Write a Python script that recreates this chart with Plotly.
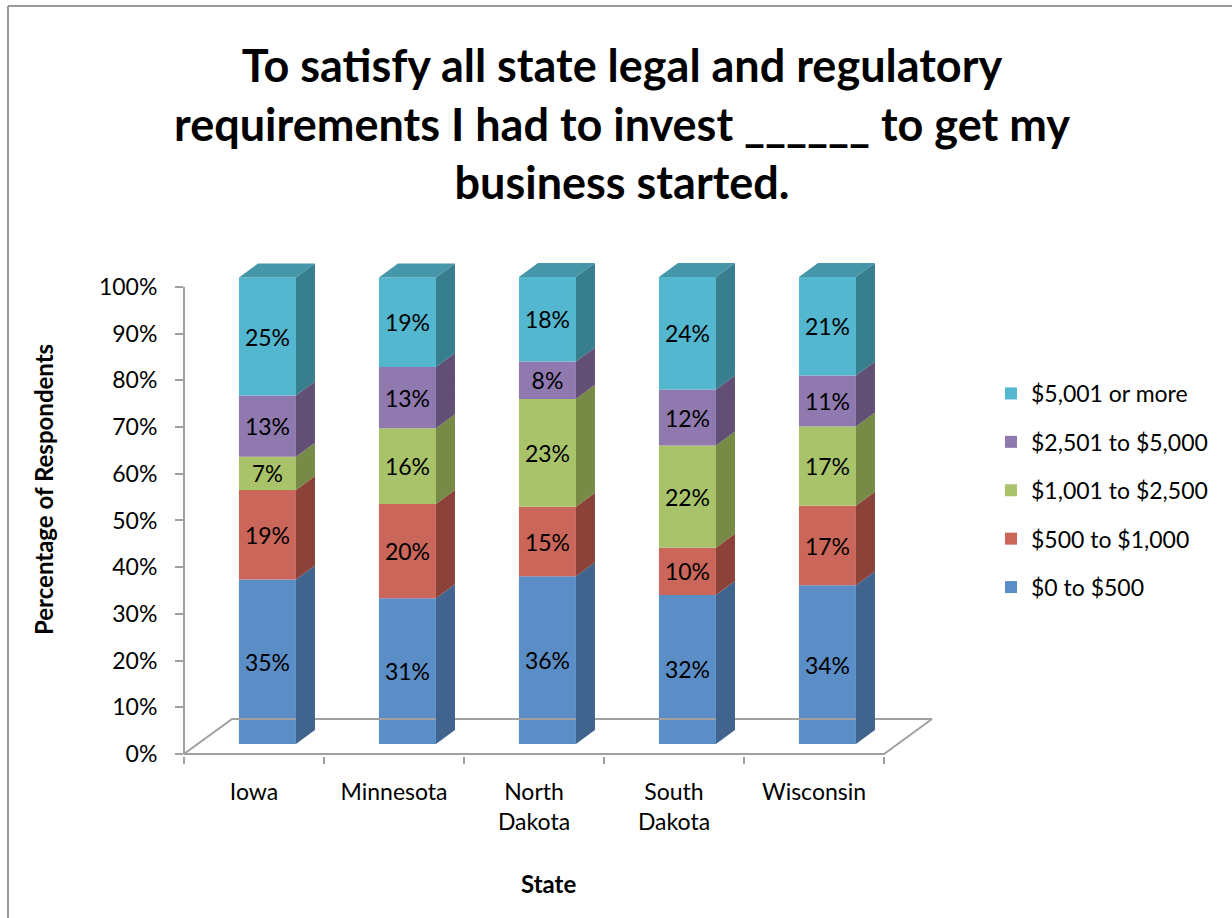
import plotly.graph_objects as go

# ---------------- data ----------------
states = ["Iowa", "Minnesota", "North Dakota", "South Dakota", "Wisconsin"]
state_labels = ["Iowa", "Minnesota", "North<br>Dakota", "South<br>Dakota", "Wisconsin"]
series_names = ["$0 to $500", "$500 to $1,000", "$1,001 to $2,500", "$2,501 to $5,000", "$5,001 or more"]
v_0_500 = [35.2, 31.2, 35.9, 31.9, 34.0]
v_500_1000 = [19.2, 20.2, 14.9, 10.1, 17.0]
v_1001_2500 = [7.1, 16.2, 23.1, 21.9, 17.0]
v_2501_5000 = [13.1, 13.1, 8.0, 12.0, 10.9]
v_5001_more = [25.3, 19.2, 18.1, 24.1, 21.1]
series_values = [v_0_500, v_500_1000, v_1001_2500, v_2501_5000, v_5001_more]
y_ticks = [0, 10, 20, 30, 40, 50, 60, 70, 80, 90, 100]

# ---------------- style ----------------
front_colors = ["#5B8EC6", "#CB665A", "#A9C36B", "#8F79AF", "#52B7CF"]
side_colors = ["#41648F", "#8C4139", "#778A46", "#614F75", "#377F8E"]
top_color = "#4496A8"
axis_gray = "#A0A0A0"
FONT = "Lato, Carlito, Calibri, sans-serif"
TXT = 23

W, H = 1232, 918
# 3D geometry (in axis units)
bar_center = 0.596      # front face center within category
bar_width = 0.407       # front face width
front_dy = 2.14         # front face lift (percent units)
depth_dx = 0.136        # bar depth in x units
depth_dy = 3.0          # bar depth in percent units
floor_dx = 0.343
floor_dy = 7.5

x_range = [0, 5.4]
y_range = [-0.5, 107]
x_dom = [184 / W, 940 / W]
y_dom = [1 - 756.3 / H, 1 - 254.3 / H]

fig = go.Figure()

n = len(states)
xs = [i + bar_center for i in range(n)]
cum = [0.0] * n

# floor
fig.add_trace(go.Scatter(
    x=[0, n, n + floor_dx, floor_dx, 0],
    y=[0, 0, floor_dy, floor_dy, 0],
    mode="lines", line=dict(color=axis_gray, width=2),
    showlegend=False, hoverinfo="skip"))

bars = []
sides = []
for s, (name, vals) in enumerate(zip(series_names, series_values)):
    bases = [cum[i] + front_dy for i in range(n)]
    sx, sy = [], []
    for i in range(n):
        xr = xs[i] + bar_width / 2
        b = bases[i]
        t = bases[i] + vals[i]
        sx += [xr, xr + depth_dx, xr + depth_dx, xr, xr, None]
        sy += [b, b + depth_dy, t + depth_dy, t, b, None]
    sides.append(go.Scatter(x=sx, y=sy, fill="toself", fillcolor=side_colors[s],
                            mode="lines", line=dict(width=0, color=side_colors[s]),
                            showlegend=False, hoverinfo="skip"))
    bars.append(go.Bar(
        x=xs, y=vals, base=bases, width=bar_width, name=name,
        marker=dict(color=front_colors[s], line=dict(width=0)),
        text=[f"{round(v)}%" for v in vals],
        textposition="inside", insidetextanchor="middle", textangle=0,
        textfont=dict(size=TXT, color="black", family=FONT),
        legendgroup=name, legendrank=len(series_names) - s))
    cum = [cum[i] + vals[i] for i in range(n)]

for tr in sides:
    fig.add_trace(tr)

# top faces
tx, ty = [], []
for i in range(n):
    xl = xs[i] - bar_width / 2
    xr = xs[i] + bar_width / 2
    T = cum[i] + front_dy
    tx += [xl, xl + depth_dx, xr + depth_dx, xr, xl, None]
    ty += [T, T + depth_dy, T + depth_dy, T, T, None]
fig.add_trace(go.Scatter(x=tx, y=ty, fill="toself", fillcolor=top_color,
                         mode="lines", line=dict(width=0, color=top_color),
                         showlegend=False, hoverinfo="skip"))

for b in bars:
    fig.add_trace(b)

fig.update_layout(
    width=W, height=H,
    margin=dict(l=0, r=0, t=0, b=0, autoexpand=False),
    paper_bgcolor="white", plot_bgcolor="white",
    barmode="overlay",
    font=dict(family=FONT, size=TXT, color="black"),
    title=dict(
        text="To satisfy all state legal and regulatory<br>requirements I had to invest ______ to get my<br>business started.",
        x=622 / W, xanchor="center", y=1 - 82 / H, yanchor="top",
        font=dict(family=FONT, size=45, color="black", weight="bold")),
    legend=dict(x=991 / W, y=1 - 372 / H, xanchor="left", yanchor="top",
                traceorder="grouped", tracegroupgap=15.5,
                font=dict(size=TXT, family=FONT), bgcolor="rgba(0,0,0,0)"),
    showlegend=True,
    xaxis=dict(domain=x_dom, range=x_range, showgrid=False, zeroline=False, showline=False,
               automargin=False,
               tickmode="array", tickvals=[i + 0.5 for i in range(n)], ticktext=state_labels,
               ticks="", ticklen=0, ticklabelstandoff=20,
               tickfont=dict(size=TXT, family=FONT),
               minor=dict(tickmode="array", tickvals=list(range(n + 1)), ticks="outside",
                          ticklen=7, tickwidth=2, tickcolor=axis_gray, showgrid=False)),
    yaxis=dict(domain=y_dom, range=y_range, showgrid=False, zeroline=False, showline=False,
               automargin=False,
               tickmode="array", tickvals=y_ticks, ticktext=[f"{t}%" for t in y_ticks],
               ticks="outside", ticklen=8, tickwidth=2, tickcolor=axis_gray,
               ticklabelstandoff=13, tickfont=dict(size=TXT, family=FONT)),
    shapes=[dict(type="line", xref="paper", yref="y", x0=x_dom[0], x1=x_dom[0], y0=0, y1=100,
                 line=dict(color=axis_gray, width=2)),
            dict(type="line", xref="paper", yref="paper", x0=8 / W, x1=1, y0=1 - 6 / H, y1=1 - 6 / H,
                 line=dict(color="#9A9A9A", width=2), layer="below"),
            dict(type="line", xref="paper", yref="paper", x0=8 / W, x1=8 / W, y0=0, y1=1 - 6 / H,
                 line=dict(color="#9A9A9A", width=2), layer="below")],
    annotations=[
        dict(text="<b>State</b>", xref="paper", yref="paper", x=548 / W, y=1 - 883 / H,
             showarrow=False, font=dict(size=24, family=FONT), xanchor="center", yanchor="middle"),
        dict(text="<b>Percentage of Respondents</b>", xref="paper", yref="paper", x=44 / W, y=1 - 490 / H,
             showarrow=False, textangle=-90, font=dict(size=24, family=FONT),
             xanchor="center", yanchor="middle"),
    ],
)

fig.write_html("out.html",
               post_script="document.documentElement.style.margin='0';document.body.style.margin='0';document.body.style.overflow='hidden';",
               config={"displayModeBar": False})
